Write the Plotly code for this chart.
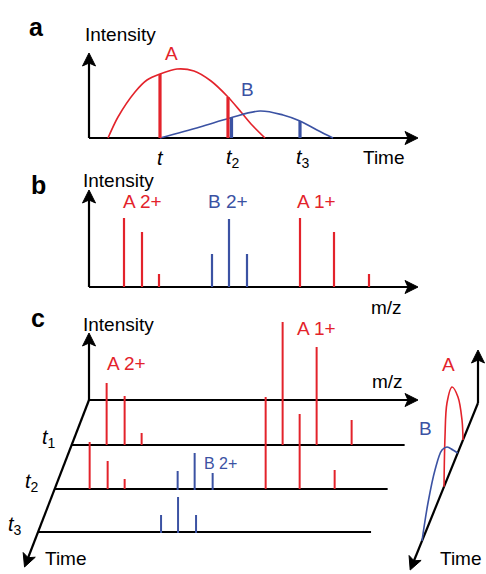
import math
import plotly.graph_objects as go

# ---------------- data ----------------
# Panel a: elution profiles (time offset from axis origin, intensity)
a_time_A = [19, 29, 46, 58, 71, 88, 105, 122, 139, 152, 163, 176]
a_int_A = [0, 21, 46, 58, 64, 69, 67, 57, 41, 26, 13, 0]
a_time_B = [71, 111, 141, 171, 194, 211, 228, 244]
a_int_B = [0, 11, 20, 27, 23, 17, 8, 0]
a_sample_labels = ["<i>t</i>", "<i>t</i><sub>2</sub>", "<i>t</i><sub>3</sub>"]
a_sample_times = [71, 141, 211]
a_bar_A_times = [71, 139]
a_bar_A_heights = [64, 41]
a_bar_B_times = [142.5, 211]
a_bar_B_heights = [20, 17]

# Panel b / c: m/z positions of isotope peaks
mz_A2 = [35, 53, 70]
mz_B2 = [123, 140, 158]
mz_A1 = [211, 245, 280]
b_int_A2 = [69, 55, 13]
b_int_B2 = [33, 68, 33]
b_int_A1 = [69, 55, 13]

# Panel c: spectra at three time points
c_row_labels = ["<i>t</i><sub>1</sub>", "<i>t</i><sub>2</sub>", "<i>t</i><sub>3</sub>"]
c_row_time = [45, 89, 132]
c_int_A2 = [[62, 49, 12], [47, 28, 10], [0, 0, 0]]
c_int_B2 = [[0, 0, 0], [18, 36, 16], [17, 35, 17]]
c_int_A1 = [[123, 98, 25], [92, 75, 19], [0, 0, 0]]

# Side panel: elution profiles along the time axis
r_T_A = [36.9, 39.4, 49.3, 64, 76.4, 81.3, 83.7]
r_I_A = [0, 22.4, 55.3, 80, 76.4, 47.3, 0]
r_T_B = [50, 61.6, 76.4, 88.7, 105.9, 123.2, 137.9]
r_I_B = [0, 14.6, 32.4, 41.7, 38.9, 23.2, 0]

# ---------------- style ----------------
W, H = 486, 574
RED = "#e3232b"
BLUE = "#3b52a3"
BLACK = "#000000"
FONT = "Liberation Sans, Arial, sans-serif"

fig = go.Figure()


def add_lines(segments, color, width):
    xs, ys = [], []
    for (x0, y0), (x1, y1) in segments:
        xs += [x0, x1, None]
        ys += [y0, y1, None]
    fig.add_trace(go.Scatter(x=xs, y=ys, mode="lines",
                             line=dict(color=color, width=width),
                             hoverinfo="skip", showlegend=False))


def add_curve(xs, ys, color, width, smoothing=1.0):
    fig.add_trace(go.Scatter(x=xs, y=ys, mode="lines",
                             line=dict(color=color, width=width, shape="spline", smoothing=smoothing),
                             hoverinfo="skip", showlegend=False))


def add_arrowhead(tip, direction, L=13, Wd=6.5, notch=3, color=BLACK):
    dx, dy = direction
    n = math.hypot(dx, dy)
    dx, dy = dx / n, dy / n
    px, py = -dy, dx
    tx, ty = tip
    bx, by = tx - L * dx, ty - L * dy
    pts = [(tx, ty), (bx + Wd * px, by + Wd * py),
           (tx - (L - notch) * dx, ty - (L - notch) * dy),
           (bx - Wd * px, by - Wd * py), (tx, ty)]
    fig.add_trace(go.Scatter(x=[p[0] for p in pts], y=[p[1] for p in pts],
                             mode="lines", fill="toself", fillcolor=color,
                             line=dict(color=color, width=1),
                             hoverinfo="skip", showlegend=False))


def label(x, y, text, color=BLACK, size=19, xanchor="center"):
    fig.add_annotation(x=x, y=y, xref="x", yref="y", text=text, showarrow=False,
                       font=dict(family=FONT, size=size, color=color),
                       xanchor=xanchor, yanchor="middle")


AX_W = 2.2

# ---------------- panel a ----------------
ao = (89, 138)
a_xend, a_yend = 418, 53
add_lines([(ao, (a_xend - 8, ao[1])), (ao, (ao[0], a_yend + 8))], BLACK, AX_W)
add_arrowhead((a_xend, ao[1]), (1, 0))
add_arrowhead((ao[0], a_yend), (0, -1))
add_curve([ao[0] + t for t in a_time_A], [ao[1] - v for v in a_int_A], RED, 1.6, 0.8)
add_curve([ao[0] + t for t in a_time_B], [ao[1] - v for v in a_int_B], BLUE, 1.6, 1.0)
add_lines([((ao[0] + t, ao[1]), (ao[0] + t, ao[1] - h)) for t, h in zip(a_bar_A_times, a_bar_A_heights)], RED, 3.2)
add_lines([((ao[0] + t, ao[1]), (ao[0] + t, ao[1] - h)) for t, h in zip(a_bar_B_times, a_bar_B_heights)], BLUE, 3.2)
for t, lab in zip(a_sample_times, a_sample_labels):
    label(ao[0] + t + (0 if lab == "<i>t</i>" else 3), 158, lab, size=20)
label(384, 157, "Time")
label(120, 34, "Intensity")
label(171, 53, "A", RED)
label(247, 89, "B", BLUE)
fig.add_annotation(x=36, y=27, xref="x", yref="y", text="<b>a</b>", showarrow=False,
                   font=dict(family=FONT, size=25, color=BLACK), xanchor="center", yanchor="middle")

# ---------------- panel b ----------------
bo = (89, 287)
b_xend, b_yend = 418, 190
add_lines([(bo, (b_xend - 8, bo[1])), (bo, (bo[0], b_yend + 8))], BLACK, AX_W)
add_arrowhead((b_xend, bo[1]), (1, 0))
add_arrowhead((bo[0], b_yend), (0, -1))
add_lines([((bo[0] + m, bo[1]), (bo[0] + m, bo[1] - h)) for m, h in zip(mz_A2 + mz_A1, b_int_A2 + b_int_A1)], RED, 2.2)
add_lines([((bo[0] + m, bo[1]), (bo[0] + m, bo[1] - h)) for m, h in zip(mz_B2, b_int_B2)], BLUE, 2.2)
label(118, 180, "Intensity")
label(142, 201, "A 2+", RED)
label(228, 201, "B 2+", BLUE)
label(316, 201, "A 1+", RED)
label(386, 307, "m/z")
fig.add_annotation(x=38, y=185, xref="x", yref="y", text="<b>b</b>", showarrow=False,
                   font=dict(family=FONT, size=25, color=BLACK), xanchor="center", yanchor="middle")

# ---------------- panel c ----------------
co = (89, 400)
slope = 0.386          # x shift per pixel of depth along the time axis
base_len = 333
c_mzend, c_intend, c_tend = 418, 333, 167
add_lines([(co, (c_mzend - 8, co[1])), (co, (co[0], c_intend + 8)),
           (co, (co[0] - slope * (c_tend - 8), co[1] + c_tend - 8))], BLACK, AX_W)
add_arrowhead((c_mzend, co[1]), (1, 0))
add_arrowhead((co[0], c_intend), (0, -1))
add_arrowhead((co[0] - slope * c_tend, co[1] + c_tend), (-slope, 1))

base_segs = []
red_segs, blue_segs = [], []
for k, d in enumerate(c_row_time):
    ox, oy = co[0] - slope * d, co[1] + d
    base_segs.append(((ox, oy), (ox + base_len, oy)))
    for m, h in zip(mz_A2 + mz_A1, c_int_A2[k] + c_int_A1[k]):
        if h > 0:
            red_segs.append(((ox + m, oy), (ox + m, oy - h)))
    for m, h in zip(mz_B2, c_int_B2[k]):
        if h > 0:
            blue_segs.append(((ox + m, oy + 1), (ox + m, oy - h)))
    label(ox - 23, oy - 7, c_row_labels[k], size=20)
add_lines(base_segs, BLACK, 2.0)
add_lines(red_segs, RED, 2.0)
add_lines(blue_segs, BLUE, 2.0)
label(118, 324, "Intensity")
label(126, 363, "A 2+", RED)
label(316, 328, "A 1+", RED)
label(220, 463, "B 2+", BLUE, size=16)
label(387, 381, "m/z")
label(66, 558, "Time")
fig.add_annotation(x=38, y=318, xref="x", yref="y", text="<b>c</b>", showarrow=False,
                   font=dict(family=FONT, size=25, color=BLACK), xanchor="center", yanchor="middle")

# ---------------- side panel ----------------
ro = (478, 403)
r_slope = 0.406
r_tend = 167
r_vend = 350
add_lines([(ro, (ro[0], r_vend + 8)),
           (ro, (ro[0] - r_slope * (r_tend - 8), ro[1] + r_tend - 8))], BLACK, AX_W)
add_arrowhead((ro[0], r_vend), (0, -1))
add_arrowhead((ro[0] - r_slope * r_tend, ro[1] + r_tend), (-r_slope, 1))
add_curve([ro[0] - r_slope * t for t in r_T_A], [ro[1] + t - v for t, v in zip(r_T_A, r_I_A)], RED, 1.6)
add_curve([ro[0] - r_slope * t for t in r_T_B], [ro[1] + t - v for t, v in zip(r_T_B, r_I_B)], BLUE, 1.6)
label(448, 364, "A", RED)
label(425, 428, "B", BLUE)
label(461, 558, "Time")

fig.update_layout(
    width=W, height=H, margin=dict(l=0, r=0, t=0, b=0),
    paper_bgcolor="white", plot_bgcolor="white",
    xaxis=dict(range=[0, W], visible=False, fixedrange=True),
    yaxis=dict(range=[H, 0], visible=False, fixedrange=True),
    showlegend=False,
)

fig.write_html("out.html", include_plotlyjs=True, config={"displayModeBar": False, "staticPlot": True},
               post_script="document.body.style.margin='0';")
